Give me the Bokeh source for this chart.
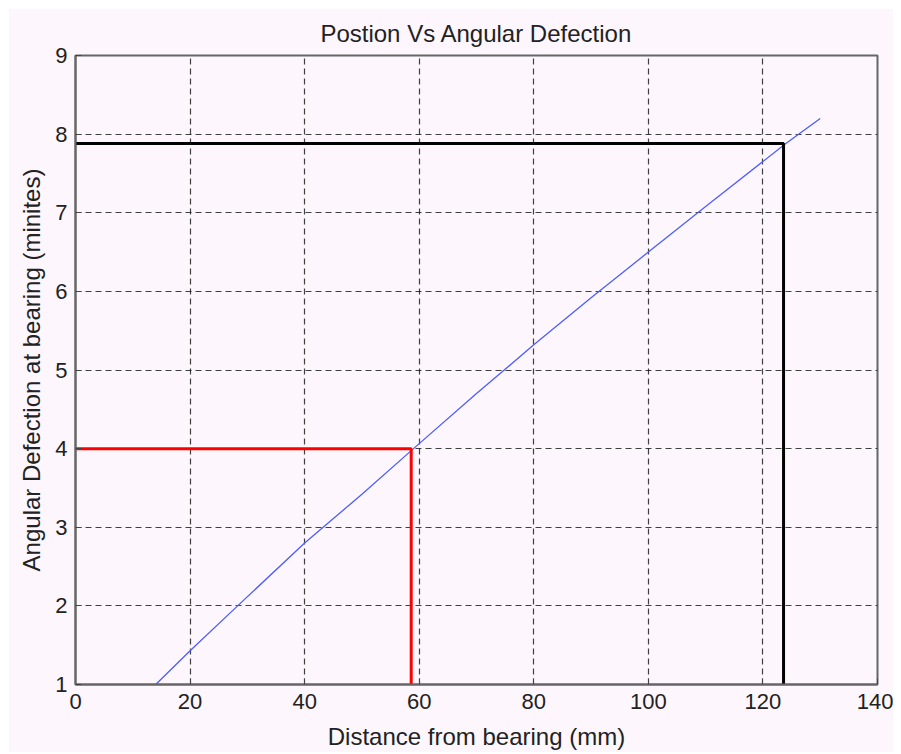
from bokeh.plotting import figure
from bokeh.models import Range1d, FixedTicker
from bokeh.embed import file_html
from bokeh.resources import INLINE

# Data
dist_mm = [14, 20, 28.3, 40, 50, 59, 70, 80, 90, 100, 110, 124, 130]
ang_def = [1.0, 1.43, 2.0, 2.8, 3.42, 4.0, 4.7, 5.32, 5.92, 6.5, 7.08, 7.88, 8.2]

red_x = [0, 58.6, 58.6]
red_y = [4.0, 4.0, 1.0]
black_x = [0, 123.6, 123.6]
black_y = [7.88, 7.88, 1.0]

x_ticks = [0, 20, 40, 60, 80, 100, 120, 140]
y_ticks = [1, 2, 3, 4, 5, 6, 7, 8, 9]

BG = "#fdf7fd"
FONT = "Liberation Sans"
TXT = "#222222"

p = figure(width=885, height=744, output_backend="svg", toolbar_location=None,
           x_range=Range1d(0, 140), y_range=Range1d(1, 9),
           title="Postion Vs Angular Defection",
           min_border_left=67, min_border_right=16, min_border_top=46, min_border_bottom=65)
p.margin = (8, 0, 0, 8)

p.background_fill_color = BG
p.border_fill_color = BG
p.outline_line_color = "#666666"
p.outline_line_width = 2

p.title.align = "center"
p.title.text_font = FONT
p.title.text_font_size = "24px"
p.title.text_line_height = 0.8
p.title.text_font_style = "normal"
p.title.text_color = TXT
p.title.offset = 0
p.title.standoff = 18

for ax in (p.xaxis, p.yaxis):
    ax.axis_line_color = "#666666"
    ax.axis_line_width = 2
    ax.major_tick_in = 6
    ax.major_tick_out = 0
    ax.minor_tick_line_color = None
    ax.major_tick_line_color = "#444444"
    ax.major_label_text_font = FONT
    ax.major_label_text_font_size = "22px"
    ax.major_label_text_color = TXT
    ax.axis_label_text_font = FONT
    ax.axis_label_text_font_size = "24px"
    ax.axis_label_text_font_style = "normal"
    ax.axis_label_text_color = TXT

p.xaxis.ticker = FixedTicker(ticks=x_ticks)
p.yaxis.ticker = FixedTicker(ticks=y_ticks)
p.xaxis.axis_label = "Distance from bearing (mm)"
p.yaxis.axis_label = "Angular Defection at bearing (minites)"
p.xaxis.major_label_standoff = 9
p.yaxis.major_label_standoff = 8
p.xaxis.axis_label_standoff = 11
p.yaxis.axis_label_standoff = 7

for g in (p.xgrid, p.ygrid):
    g.grid_line_color = "#111111"
    g.grid_line_alpha = 0.8
    g.grid_line_dash = "6 4"
    g.grid_line_width = 1.2

p.line(dist_mm, ang_def, line_color="#4d5dff", line_width=1.3)
p.line(red_x, red_y, line_color="#ff0000", line_width=3)
p.line(black_x, black_y, line_color="#000000", line_width=3)

open("out.html", "w").write(file_html(p, INLINE))
